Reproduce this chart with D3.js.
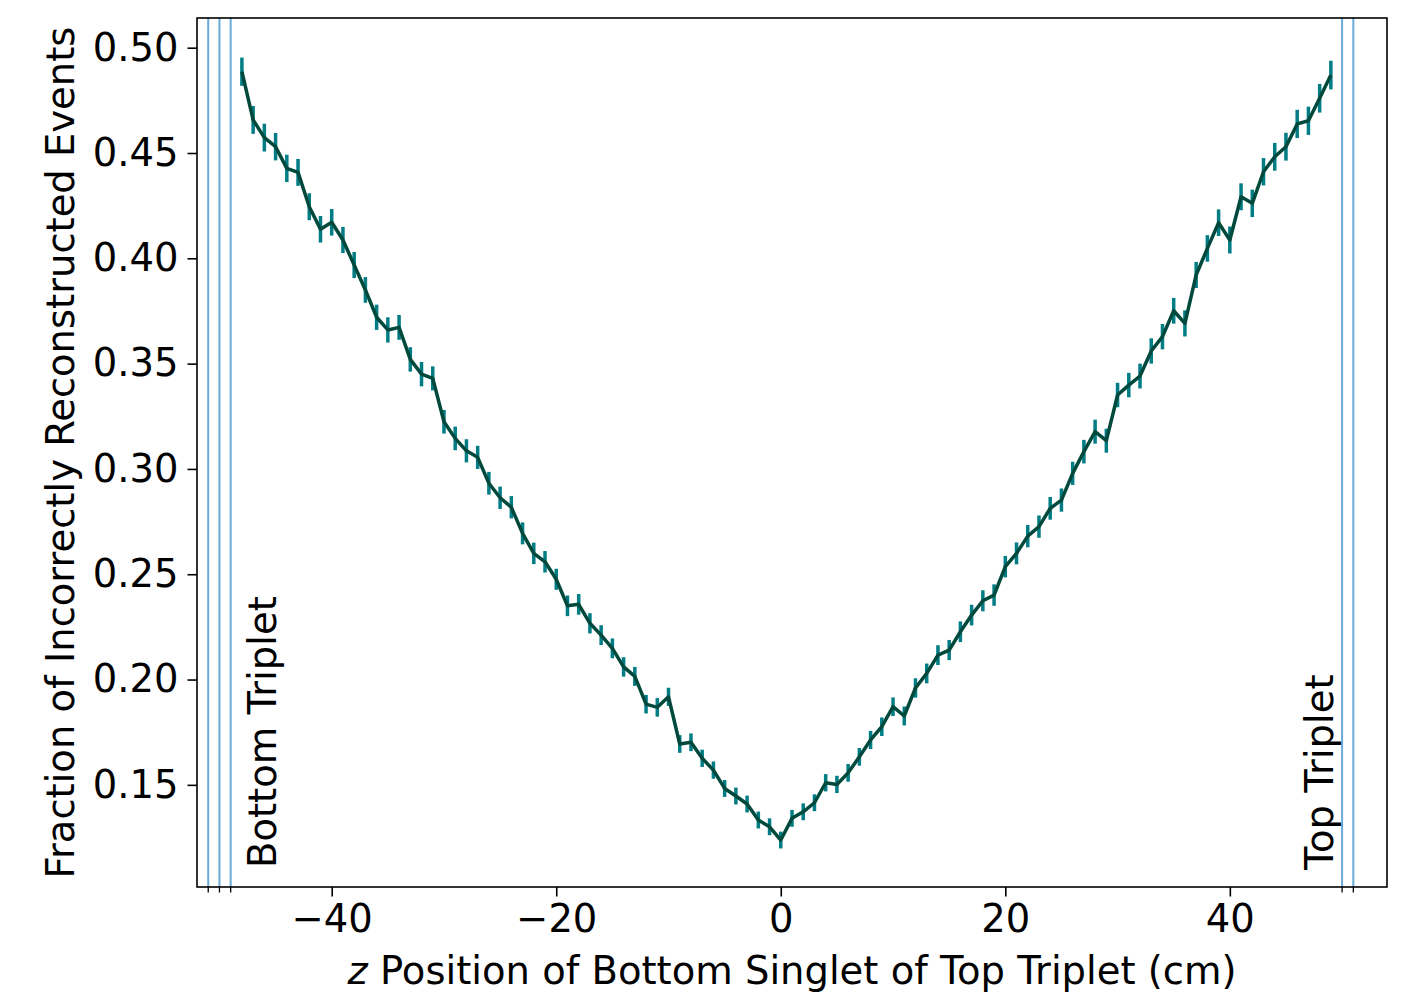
<!DOCTYPE html>
<html><head><meta charset="utf-8">
<script src="https://cdn.jsdelivr.net/npm/d3@7"></script>
<style>body{margin:0;background:#fff}svg{display:block}text{font-family:"DejaVu Sans",sans-serif}</style>
</head><body>
<svg id="c" width="1408" height="998"></svg>
<script>
const zPositions = d3.range(-48, 50);
const fractions = [
0.4886,0.4657,0.4573,0.4530,0.4427,0.4408,0.4245,0.4138,0.4171,
0.4087,0.3968,0.3850,0.3720,0.3660,0.3672,0.3520,0.3450,0.3430,0.3224,
0.3145,0.3086,0.3055,0.2932,0.2863,0.2818,0.2694,0.2599,0.2559,0.2476,
0.2350,0.2357,0.2267,0.2211,0.2148,0.2060,0.2015,0.1883,0.1868,0.1918,
0.1694,0.1702,0.1626,0.1570,0.1483,0.1447,0.1409,0.1333,0.1301,0.1238,
0.1341,0.1372,0.1415,0.1510,0.1502,0.1557,0.1633,0.1713,0.1776,0.1871,
0.1827,0.1960,0.2029,0.2116,0.2140,0.2227,0.2306,0.2374,0.2401,0.2536,
0.2599,0.2681,0.2726,0.2813,0.2852,0.2979,0.3082,0.3177,0.3134,0.3351,
0.3398,0.3441,0.3560,0.3628,0.3751,0.3691,0.3921,0.4047,0.4169,0.4087,
0.4292,0.4261,0.4411,0.4482,0.4530,0.4638,0.4653,0.4760,0.4870];
const errors = [
0.0067,0.0066,0.0066,0.0065,0.0065,0.0064,0.0064,0.0063,0.0063,
0.0062,0.0062,0.0061,0.0060,0.0060,0.0059,0.0058,0.0058,0.0057,0.0056,
0.0056,0.0055,0.0055,0.0054,0.0053,0.0053,0.0052,0.0051,0.0051,0.0050,
0.0049,0.0049,0.0048,0.0047,0.0047,0.0046,0.0045,0.0044,0.0044,0.0043,
0.0042,0.0042,0.0041,0.0041,0.0040,0.0040,0.0040,0.0040,0.0040,0.0040,
0.0040,0.0040,0.0040,0.0041,0.0041,0.0042,0.0042,0.0043,0.0044,0.0044,
0.0045,0.0046,0.0047,0.0047,0.0048,0.0049,0.0049,0.0050,0.0051,0.0051,
0.0052,0.0053,0.0053,0.0054,0.0055,0.0055,0.0056,0.0057,0.0057,0.0058,
0.0058,0.0059,0.0060,0.0060,0.0061,0.0062,0.0062,0.0063,0.0063,0.0064,
0.0064,0.0065,0.0065,0.0066,0.0066,0.0067,0.0067,0.0068,0.0068];
const detectorLines = [-51, -50, -49, 50, 51];
const xTicks = [-40, -20, 0, 20, 40];
const yTicks = [0.15, 0.20, 0.25, 0.30, 0.35, 0.40, 0.45, 0.50];
const xLabelText = "Position of Bottom Singlet of Top Triplet (cm)";
const yLabelText = "Fraction of Incorrectly Reconstructed Events";
const regionLabels = [{text: "Bottom Triplet", z: -45.0, end: 868}, {text: "Top Triplet", z: 49.15, end: 870}];

const data = zPositions.map((z, i) => ({z, f: fractions[i], e: errors[i]}));
const L = 197, R = 1387, T = 18, B = 887;
const FS = 38.5;
const svg = d3.select("#c");
const x = d3.scaleLinear().domain([-52, 54]).range([L, R]);
const y = d3.scaleLinear().domain([0.1015, 0.5141]).range([B, T]);

// detector lines
svg.append("g").selectAll("line").data(detectorLines).join("line")
  .attr("x1", d => x(d)).attr("x2", d => x(d)).attr("y1", T).attr("y2", B)
  .attr("stroke", "#6aaad8").attr("stroke-width", 2);

// error bars
svg.append("g").selectAll("line").data(data).join("line")
  .attr("x1", d => x(d.z)).attr("x2", d => x(d.z))
  .attr("y1", d => y(d.f - d.e)).attr("y2", d => y(d.f + d.e))
  .attr("stroke", "#007c84").attr("stroke-width", 3.5);

// line
svg.append("path").datum(data)
  .attr("d", d3.line().x(d => x(d.z)).y(d => y(d.f)))
  .attr("fill", "none").attr("stroke", "#00493c").attr("stroke-width", 3.5)
  .attr("stroke-linejoin", "round");

// region labels
regionLabels.forEach(r => {
  svg.append("text").attr("transform", `translate(${x(r.z)},${r.end}) rotate(-90)`)
    .attr("font-size", FS).attr("fill", "#000").text(r.text);
});

// axes
const xAxis = d3.axisBottom(x).tickValues(xTicks).tickFormat(d => d < 0 ? "\u2212" + Math.abs(d) : d)
  .tickSizeInner(9.5).tickSizeOuter(0).tickPadding(8);
const gx = svg.append("g").attr("transform", `translate(0,${B})`).call(xAxis);
gx.select(".domain").remove();
gx.selectAll("text").attr("font-size", FS).attr("font-family", "DejaVu Sans").attr("fill", "#000");
gx.selectAll("line").attr("stroke-width", 1.6).attr("stroke", "#000");

svg.append("g").attr("transform", `translate(0,${B})`)
  .selectAll("line").data(detectorLines).join("line")
  .attr("x1", d => x(d)).attr("x2", d => x(d)).attr("y1", 0).attr("y2", 5.5)
  .attr("stroke", "#000").attr("stroke-width", 1.3);

const yAxis = d3.axisLeft(y).tickValues(yTicks).tickFormat(d3.format(".2f"))
  .tickSizeInner(9.5).tickSizeOuter(0).tickPadding(9);
const gy = svg.append("g").attr("transform", `translate(${L},0)`).call(yAxis);
gy.select(".domain").remove();
gy.selectAll("text").attr("font-size", FS).attr("font-family", "DejaVu Sans").attr("fill", "#000");
gy.selectAll("line").attr("stroke-width", 1.6).attr("stroke", "#000");

// frame
svg.append("rect").attr("x", L).attr("y", T).attr("width", R - L).attr("height", B - T)
  .attr("fill", "none").attr("stroke", "#000").attr("stroke-width", 1.6);

// axis labels
const xl = svg.append("text").attr("x", (L + R) / 2).attr("y", 984).attr("text-anchor", "middle")
  .attr("font-size", FS).attr("fill", "#000");
xl.append("tspan").attr("font-style", "italic").text("z");
xl.append("tspan").text(" " + xLabelText);

svg.append("text").attr("transform", `translate(74,${(T + B) / 2}) rotate(-90)`)
  .attr("text-anchor", "middle").attr("font-size", FS).attr("fill", "#000").text(yLabelText);
</script>
</body></html>
